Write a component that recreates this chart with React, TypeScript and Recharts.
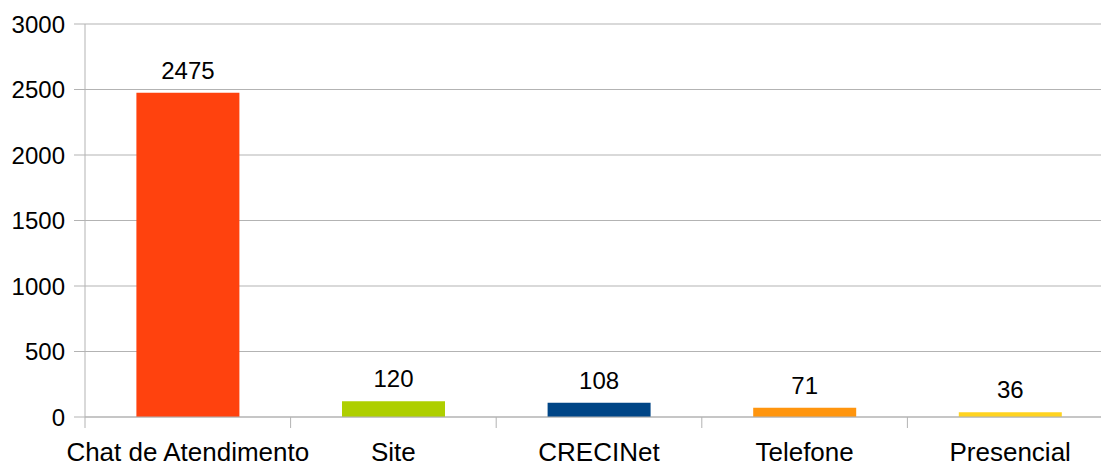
import React from 'react';
import { BarChart, Bar, XAxis, YAxis, CartesianGrid, LabelList, Cell } from 'recharts';

const categories = ['Chat de Atendimento', 'Site', 'CRECINet', 'Telefone', 'Presencial'];
const values = [2475, 120, 108, 71, 36];
const colors = ['#FF420E', '#AECF00', '#004586', '#FF950E', '#FFD320'];
const yTicks = [0, 500, 1000, 1500, 2000, 2500, 3000];

const data = categories.map((name, i) => ({ name, value: values[i] }));

const FONT = '"Liberation Sans", Arial, sans-serif';
const GRID = '#b3b3b3';

const CategoryTick = (props: any) => {
  const { x, y, payload } = props;
  const half = payload && payload.offset ? payload.offset : 0;
  return (
    <g>
      <line x1={x - half} x2={x - half} y1={y} y2={y + 11} stroke={GRID} strokeWidth={1} />
      <text x={x} y={y + 44} textAnchor="middle" fill="#000" fontSize={26} fontFamily={FONT}>
        {payload.value}
      </text>
    </g>
  );
};

export default function App() {
  return (
    <div style={{ position: 'fixed', left: 0, top: 0, width: 1101, height: 466, overflow: 'hidden', background: '#fff' }}>
      <BarChart
        width={1120}
        height={466}
        data={data}
        margin={{ top: 24, right: 7, left: 0, bottom: 0 }}
        barCategoryGap="25%"
      >
        <CartesianGrid vertical={false} stroke={GRID} strokeWidth={1} />
        <XAxis
          dataKey="name"
          height={49}
          axisLine={{ stroke: GRID }}
          tickLine={false}
          tickSize={0}
          tickMargin={0}
          interval={0}
          tick={<CategoryTick />}
        />
        <YAxis
          width={85}
          domain={[0, 3000]}
          ticks={yTicks}
          axisLine={{ stroke: GRID }}
          tickLine={{ stroke: GRID }}
          tickSize={11}
          tickMargin={9}
          tick={{ fill: '#000', fontSize: 24, fontFamily: FONT }}
        />
        <Bar dataKey="value" isAnimationActive={false}>
          {data.map((d, i) => (
            <Cell key={d.name} fill={colors[i]} />
          ))}
          <LabelList dataKey="value" position="top" offset={14} fill="#000" fontSize={24} fontFamily={FONT} />
        </Bar>
      </BarChart>
    </div>
  );
}
